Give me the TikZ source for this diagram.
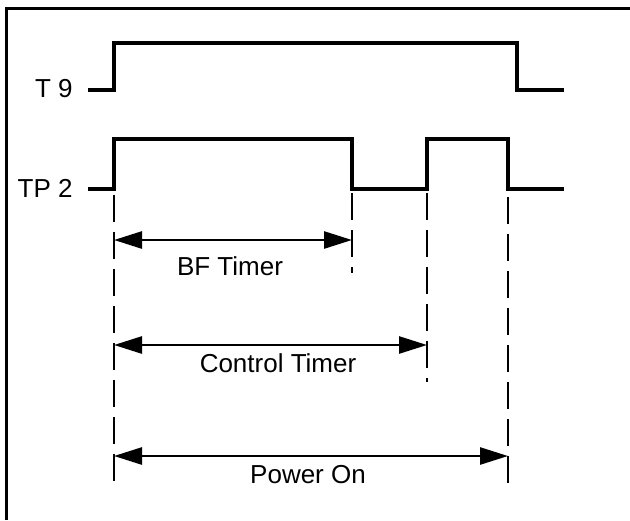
\documentclass[tikz,border=0pt]{standalone}
\usepackage{fontspec}
\setmainfont{Liberation Sans}
\usetikzlibrary{arrows.meta}
\tikzset{
  timing/.style={
    x=0.5pt, y=-0.5pt,
    line join=miter,
    font=\fontsize{13}{15}\selectfont
  },
  frameline/.style={line width=1.5pt},
  wave/.style={line width=2pt},
  guide/.style={line width=1.2pt, dash pattern=on 13.5pt off 5pt},
  span/.style={
    {Triangle[length=14pt,width=8.5pt]}-{Triangle[length=14pt,width=8.5pt]},
    line width=1.3pt
  },
  siglabel/.style={anchor=base east, inner sep=0pt},
  spanlabel/.style={anchor=base, inner sep=0pt}
}
\begin{document}
\begin{tikzpicture}[timing]
\useasboundingbox (0,0) rectangle (630,520);

% Frame (only top and left edge show)
\draw[frameline] (6,520) -- (6,8) -- (630,8);

% Event times
\coordinate (t0) at (114,0);
\coordinate (t1) at (352,0);
\coordinate (t2) at (427,0);
\coordinate (t3) at (508,0);
\coordinate (t4) at (517,0);

% Signal labels
\node[siglabel] (T9) at (73,97) {T 9};
\node[siglabel] (TP2) at (73,197) {TP 2};

% T9 waveform
\draw[wave] (88,90) -- (t0 |- 0,90) -- (t0 |- 0,43) -- (t4 |- 0,43)
  -- (t4 |- 0,90) -- (564,90);

% TP2 waveform
\draw[wave] (88,189) -- (t0 |- 0,189) -- (t0 |- 0,139) -- (t1 |- 0,139)
  -- (t1 |- 0,189) -- (t2 |- 0,189) -- (t2 |- 0,139) -- (t3 |- 0,139)
  -- (t3 |- 0,189) -- (564,189);

% Dashed guides
\draw[guide] (t0 |- 0,195) -- (t0 |- 0,485);
\draw[guide] (t1 |- 0,193) -- (t1 |- 0,273);
\draw[guide] (t2 |- 0,193) -- (t2 |- 0,382);
\draw[guide] (t3 |- 0,197) -- (t3 |- 0,485);

% Timer spans
\coordinate (bfa) at (t0 |- 0,240);
\coordinate (bfb) at (t1 |- 0,240);
\coordinate (cta) at (t0 |- 0,345);
\coordinate (ctb) at (t2 |- 0,345);
\coordinate (poa) at (t0 |- 0,456);
\coordinate (pob) at (t3 |- 0,456);

\draw[span] (bfa) -- (bfb);
\draw[span] (cta) -- (ctb);
\draw[span] (poa) -- (pob);

\node[spanlabel] (bf) at (230,275) {BF Timer};
\node[spanlabel] (ct) at (278,372) {Control Timer};
\node[spanlabel] (po) at (308,483) {Power On};

\end{tikzpicture}
\end{document}
